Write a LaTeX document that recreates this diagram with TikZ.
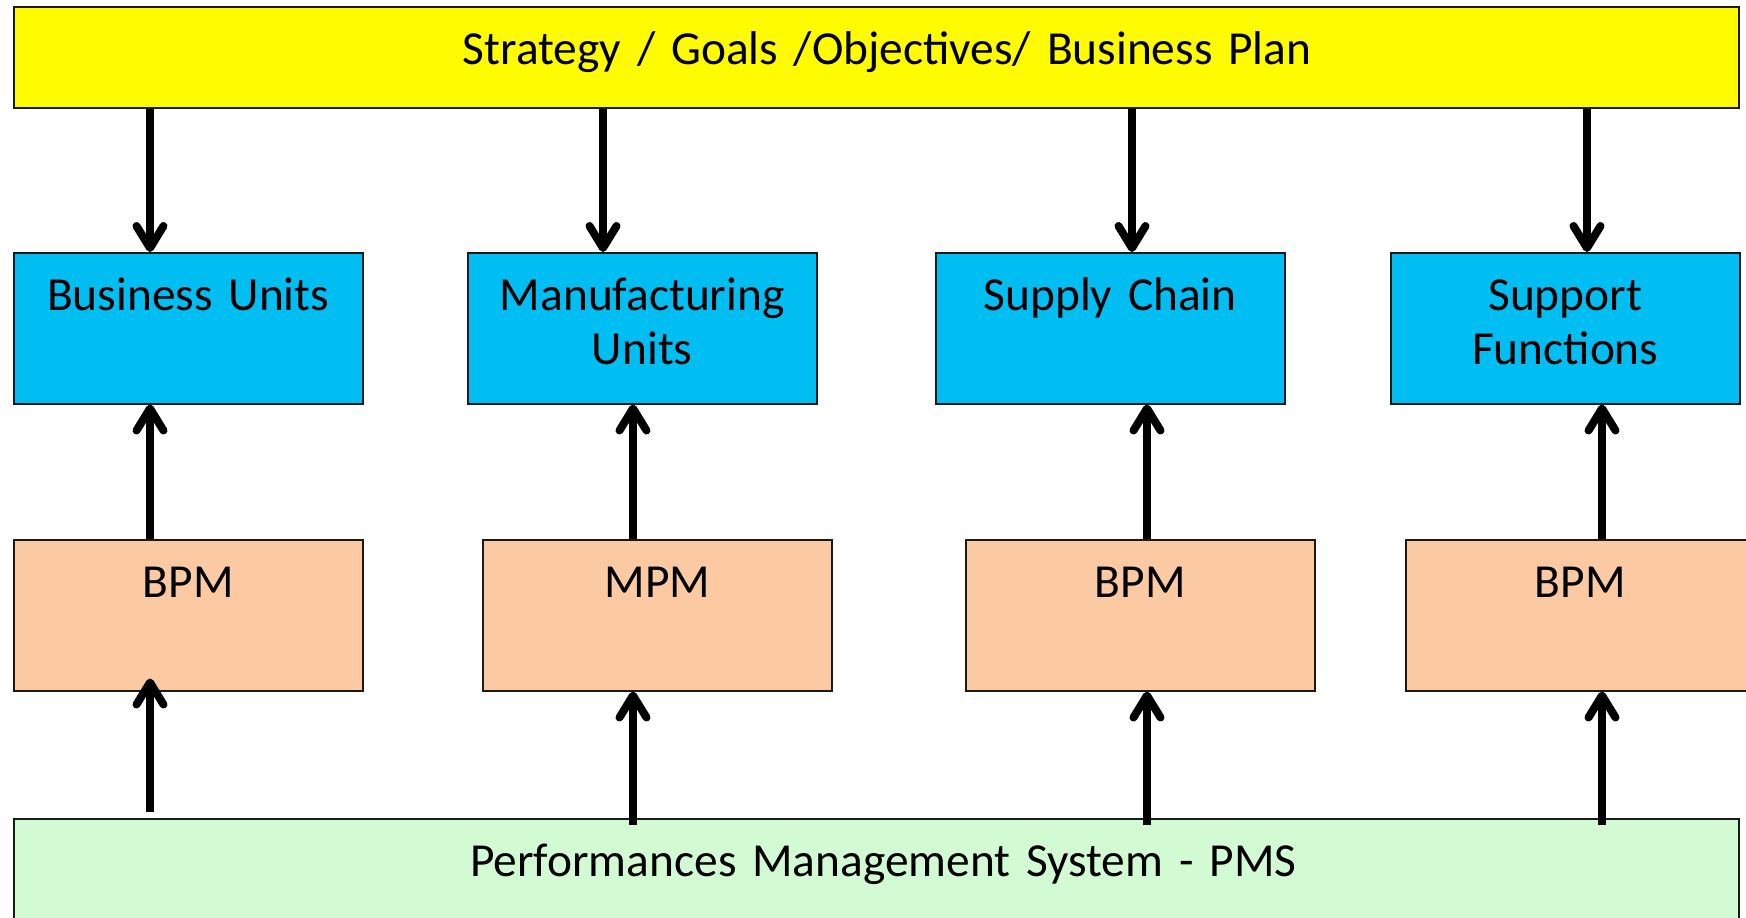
\documentclass[tikz,border=0pt]{standalone}
\usepackage{fontspec}
\setmainfont{Carlito}
\usetikzlibrary{arrows.meta}
\definecolor{stratyellow}{HTML}{FFFB00}
\definecolor{unitblue}{HTML}{00BEF2}
\definecolor{pmpeach}{HTML}{FBCAA2}
\definecolor{pmsgreen}{HTML}{D3FBD3}
\definecolor{boxline}{HTML}{1A1A1A}
\tikzstyle{box} = [rectangle, draw=boxline, line width=0.75pt, inner sep=0pt, anchor=north west, align=center, text height=29pt]
\tikzstyle{wide} = [box, text width=862.5pt, text depth=21.5pt]
\tikzstyle{unit} = [box, fill=unitblue, text width=174.5pt, text depth=46.5pt]
\tikzstyle{pm} = [box, fill=pmpeach, text width=174.5pt, text depth=46.5pt]
\tikzstyle{flow} = [line width=4pt, -{Straight Barb[length=11pt, width=13.5pt, round]}]

\begin{document}
\begin{tikzpicture}[x=0.5pt, y=-0.5pt, font=\fontsize{23.7pt}{27pt}\selectfont]
\useasboundingbox[fill=white] (0,0) rectangle (1746,917);

% columns of the arrows
\coordinate (dn1) at (150,0);
\coordinate (dn2) at (603,0);
\coordinate (dn3) at (1132,0);
\coordinate (dn4) at (1587,0);
\coordinate (up1) at (150,0);
\coordinate (up2) at (633,0);
\coordinate (up3) at (1147,0);
\coordinate (up4) at (1602,0);

\node (strat) [wide, fill=stratyellow] at (13,6) {\hspace*{11pt}Strategy / Goals /Objectives/ Business Plan};

\node (unit1) [unit] at (13,252) {Business Units};
\node (unit2) [unit] at (467,252) {Manufacturing\\Units};
\node (unit3) [unit] at (935,252) {Supply Chain};
\node (unit4) [unit] at (1390,252) {Support\\Functions};

\node (pm1) [pm] at (13,539) {BPM};
\node (pm2) [pm] at (482,539) {MPM};
\node (pm3) [pm] at (965,539) {BPM};
\node (pm4) [pm] at (1405,539) {BPM};

\node (pms) [wide, fill=pmsgreen, text depth=46.5pt] at (13,818) {\hspace*{7pt}Performances Management System - PMS};

\draw[flow] (strat.south -| dn1) -- (unit1.north -| dn1);
\draw[flow] (strat.south -| dn2) -- (unit2.north -| dn2);
\draw[flow] (strat.south -| dn3) -- (unit3.north -| dn3);
\draw[flow] (strat.south -| dn4) -- (unit4.north -| dn4);

\draw[flow] (pm1.north -| up1) -- (unit1.south -| up1);
\draw[flow] (pm2.north -| up2) -- (unit2.south -| up2);
\draw[flow] (pm3.north -| up3) -- (unit3.south -| up3);
\draw[flow] (pm4.north -| up4) -- (unit4.south -| up4);

\draw[flow, shorten <=3pt, shorten >=-6.5pt] (pms.north -| up1) -- (pm1.south -| up1);
\draw[flow, shorten <=-3.5pt] (pms.north -| up2) -- (pm2.south -| up2);
\draw[flow, shorten <=-3.5pt] (pms.north -| up3) -- (pm3.south -| up3);
\draw[flow, shorten <=-3.5pt] (pms.north -| up4) -- (pm4.south -| up4);
\end{tikzpicture}
\end{document}
